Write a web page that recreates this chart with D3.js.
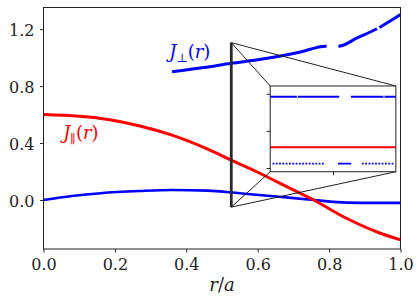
<!DOCTYPE html>
<html>
<head>
<meta charset="utf-8">
<script src="https://cdn.jsdelivr.net/npm/d3@7"></script>
<style>
  body { margin: 0; background: #fff; }
  svg { display: block; }
</style>
</head>
<body>
<div id="chart"></div>
<script>
// ---- data ----
var rPar  = [0, 0.1, 0.16, 0.27, 0.36, 0.46, 0.526, 0.6, 0.66, 0.757, 0.85, 0.94, 1.0];
var jPar  = [0.6, 0.588, 0.573, 0.52, 0.456, 0.358, 0.28, 0.195, 0.12, 0.0, -0.13, -0.23, -0.28];

var rLow  = [0, 0.08, 0.16, 0.27, 0.36, 0.46, 0.55, 0.66, 0.757, 0.85, 0.92, 1.0];
var jLow  = [0, 0.028, 0.048, 0.063, 0.07, 0.066, 0.047, 0.023, 0.0, -0.018, -0.02, -0.02];

var rPerp = [0.36, 0.45, 0.526, 0.6, 0.66, 0.72, 0.79, 0.826, 0.88, 0.936, 0.97, 1.0];
var jPerp = [0.9, 0.93, 0.96, 0.985, 1.01, 1.04, 1.08, 1.08, 1.14, 1.205, 1.255, 1.303];
// where the dashes of J_perp break (r values: gap start, gap end, ...)
var perpBreaks = [0.793, 0.826, 0.934, 0.941];

var xTicks = [0, 0.2, 0.4, 0.6, 0.8, 1.0];
var yTicks = [0, 0.4, 0.8, 1.2];

// zoom cut and what the inset shows
var rCut = 0.526, cutLo = -0.05, cutHi = 1.105;
var insetX = [-1, 1];
var insetTop = [0.96, 0.96];
var insetMid = [0.28, 0.28];
var insetBot = [0.06, 0.06];
var insetYTicks = [0, 0.5, 1.0];
var insetXTicks = [0];

var FONT = "'DejaVu Serif', serif";

var margin = {top: 7.5, right: 15.5, bottom: 55, left: 43.5},
    width = 416 - margin.left - margin.right,
    height = 304 - margin.top - margin.bottom;

var svg = d3.select("#chart").append("svg")
    .attr("width", 416).attr("height", 304)
  .append("g")
    .attr("transform", "translate(" + margin.left + "," + margin.top + ")");

var x = d3.scaleLinear().domain([0, 1]).range([0, width]);
var y = d3.scaleLinear().domain([-0.344, 1.352]).range([height, 0]);

// axes
var xAxis = svg.append("g").attr("transform", "translate(0," + height + ")")
  .call(d3.axisBottom(x).tickValues(xTicks).tickFormat(d3.format(".1f")).tickSize(3.5).tickSizeOuter(0).tickPadding(6.5));
var yAxis = svg.append("g")
  .call(d3.axisLeft(y).tickValues(yTicks).tickFormat(d3.format(".1f")).tickSize(3.5).tickSizeOuter(0).tickPadding(5.5));
[xAxis, yAxis].forEach(function(a){
  a.attr("font-family", FONT).attr("font-size", 16);
  a.select(".domain").remove();
  a.selectAll(".tick line").attr("stroke", "#222");
  a.selectAll(".tick text").attr("fill", "#222");
});
yAxis.selectAll(".tick text").attr("dy", "0.38em");

function curve(xs, ys, sx, sy) {
  return d3.line().curve(d3.curveMonotoneX)
    .x(function(d){ return sx(d[0]); })
    .y(function(d){ return sy(d[1]); })(d3.zip(xs, ys));
}

svg.append("path").attr("d", curve(rLow, jLow, x, y))
  .attr("fill", "none").attr("stroke", "#0000ff").attr("stroke-width", 2.6);
svg.append("path").attr("d", curve(rPar, jPar, x, y))
  .attr("fill", "none").attr("stroke", "#ff0000").attr("stroke-width", 3);
var perp = svg.append("path").attr("d", curve(rPerp, jPerp, x, y))
  .attr("fill", "none").attr("stroke", "#0000ff").attr("stroke-width", 3);

// turn break positions into path lengths
var pn = perp.node(), total = pn.getTotalLength();
function lenAt(px) {
  var lo = 0, hi = total;
  for (var i = 0; i < 40; i++) {
    var mid = (lo + hi) / 2;
    if (pn.getPointAtLength(mid).x < px) lo = mid; else hi = mid;
  }
  return lo;
}
var marks = [0].concat(perpBreaks.map(function(r){ return lenAt(x(r)); })).concat([total]);
var dash = [];
for (var k = 1; k < marks.length; k++) dash.push(marks[k] - marks[k - 1]);
perp.attr("stroke-dasharray", dash.join(","));

// inset box in axes fractions
var ib = {x0: 0.635, x1: 0.987, y0: 0.32, y1: 0.675};
var ix0 = ib.x0 * width, ix1 = ib.x1 * width,
    iy0 = (1 - ib.y1) * height, iy1 = (1 - ib.y0) * height;

// zoom cut + connectors
var cx = x(rCut), cTop = y(cutHi), cBot = y(cutLo);
var conn = [[cTop, ix0, iy0], [cTop, ix1, iy0], [cBot, ix0, iy1], [cBot, ix1, iy1]];
svg.selectAll(".conn").data(conn).enter().append("line")
  .attr("x1", cx).attr("y1", function(d){ return d[0]; })
  .attr("x2", function(d){ return d[1]; }).attr("y2", function(d){ return d[2]; })
  .attr("stroke", "#222").attr("stroke-width", 1);
svg.append("line").attr("x1", cx).attr("x2", cx).attr("y1", cTop).attr("y2", cBot)
  .attr("stroke", "#2a2a2a").attr("stroke-width", 2.8);

// inset
var inset = svg.append("g").attr("transform", "translate(" + ix0 + "," + iy0 + ")");
var iw = ix1 - ix0, ih = iy1 - iy0;
var xi = d3.scaleLinear().domain(insetX).range([0, iw]);
var yi = d3.scaleLinear().domain([cutLo, cutHi]).range([ih, 0]);
inset.append("rect").attr("width", iw).attr("height", ih).attr("fill", "#fff");

function dots(len, on, off) {
  var a = [], n = Math.floor(len / (on + off));
  for (var i = 0; i < n; i++) a.push(on, off);
  return a;
}
var botDash = [0, 2.3].concat(dots(53.4, 1.8, 1.5)).concat([0, 12.6, 13.4, 10.6])
  .concat(dots(34, 1.8, 1.5)).concat([0, 40]);

inset.append("path").attr("d", curve(insetX, insetTop, xi, yi))
  .attr("fill", "none").attr("stroke", "#0000ff").attr("stroke-width", 2)
  .attr("stroke-dasharray", "26.7,1,41.3,11.7,32.6,1,40");
inset.append("path").attr("d", curve(insetX, insetMid, xi, yi))
  .attr("fill", "none").attr("stroke", "#ff0000").attr("stroke-width", 1.8);
inset.append("path").attr("d", curve(insetX, insetBot, xi, yi))
  .attr("fill", "none").attr("stroke", "#0000ff").attr("stroke-width", 1.8)
  .attr("stroke-dasharray", botDash.join(","));

inset.append("g").attr("transform", "translate(0," + ih + ")")
  .call(d3.axisBottom(xi).tickValues(insetXTicks).tickFormat("").tickSize(3.5).tickSizeOuter(0))
  .call(function(g){ g.select(".domain").remove(); g.selectAll("line").attr("stroke", "#222"); });
inset.append("g")
  .call(d3.axisLeft(yi).tickValues(insetYTicks).tickFormat("").tickSize(3.5).tickSizeOuter(0))
  .call(function(g){ g.select(".domain").remove(); g.selectAll("line").attr("stroke", "#222"); });
inset.append("rect").attr("width", iw).attr("height", ih)
  .attr("fill", "none").attr("stroke", "#222").attr("stroke-width", 1);

// frame
svg.append("rect").attr("width", width).attr("height", height)
  .attr("fill", "none").attr("stroke", "#222").attr("stroke-width", 1);

// labels
function label(t, sub, col) {
  t.attr("font-family", FONT).attr("font-size", 18).attr("fill", col);
  t.append("tspan").attr("font-style", "italic").text("J");
  t.append("tspan").attr("font-size", 12).attr("dy", 4).text(sub);
  t.append("tspan").attr("dy", -4).text("(");
  t.append("tspan").attr("font-style", "italic").text("r");
  t.append("tspan").text(")");
}
label(svg.append("text").attr("x", x(0.055)).attr("y", y(0.43)), "\u2225", "#ff0000");
label(svg.append("text").attr("x", x(0.352)).attr("y", y(1.0)), "\u22a5", "#0000ff");

var xl = svg.append("text").attr("font-family", FONT).attr("font-size", 18).attr("fill", "#222")
  .attr("text-anchor", "middle").attr("x", width / 2).attr("y", height + 42);
xl.append("tspan").attr("font-style", "italic").text("r");
xl.append("tspan").text("/");
xl.append("tspan").attr("font-style", "italic").text("a");
</script>
</body>
</html>
